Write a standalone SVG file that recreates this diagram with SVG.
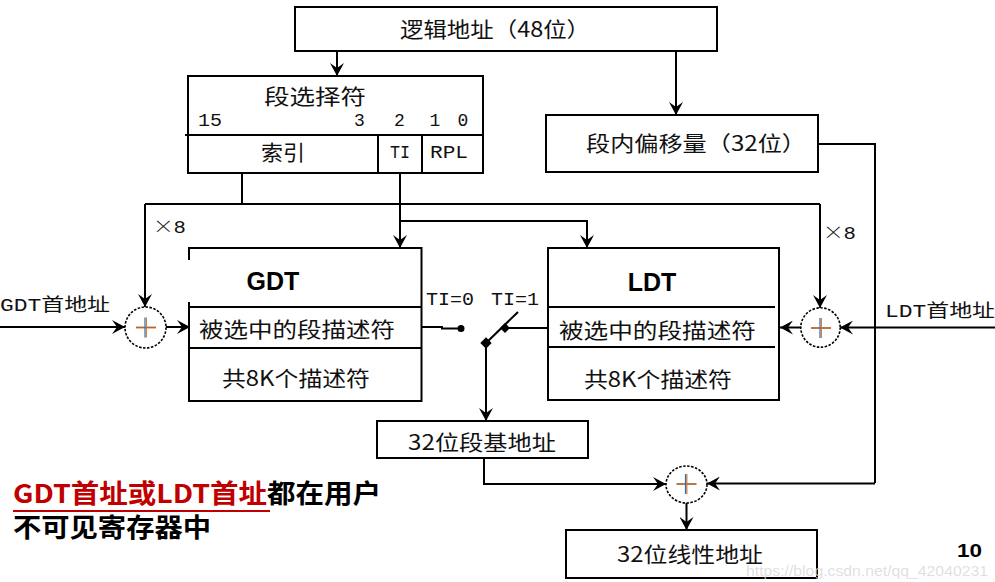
<svg xmlns="http://www.w3.org/2000/svg" width="995" height="582" viewBox="0 0 995 582">
<style>
.bx{fill:#fff;stroke:#000;stroke-width:2}
.ln{fill:none;stroke:#000;stroke-width:2}
.cn{fill:none;stroke:#000;stroke-width:2}
.ar{marker-end:url(#ah)}
.cir{fill:#fff;stroke:#000;stroke-width:1.6;stroke-dasharray:2.5 1.5}
.zh{font-family:"Noto Sans CJK SC","Noto Sans",sans-serif;font-size:21px;fill:#111}
.mo{font-family:"Liberation Mono","Noto Sans CJK SC",monospace;font-size:18px;fill:#111}
.bd{font-family:"Liberation Sans","Noto Sans CJK SC",sans-serif;font-weight:bold;font-size:25px;fill:#000}
.nt{font-family:"Noto Sans CJK SC",sans-serif;font-weight:bold;font-size:26px}
</style>
<defs>
<marker id="ah" markerUnits="userSpaceOnUse" markerWidth="14" markerHeight="14" refX="13" refY="7" orient="auto">
<path d="M0,0 L13,7 L0,14 L5,7 z" fill="#000"/>
</marker>
<g id="plus">
<line x1="-10" y1="0" x2="10" y2="0" stroke="#B8662A" stroke-width="1.8"/>
<line x1="-1" y1="-10" x2="-1" y2="10" stroke="#2F6FC0" stroke-width="1.2"/>
<line x1="0.3" y1="-10" x2="0.3" y2="10" stroke="#C87533" stroke-width="1.2"/>
</g>
</defs>
<rect width="995" height="582" fill="#fff"/>

<g id="connectors">
<line class="cn ar" x1="337" y1="51" x2="337" y2="76"/>
<line class="cn ar" x1="676" y1="51" x2="676" y2="115"/>
<polyline class="cn" points="242,173 242,204"/>
<polyline class="cn" points="145,204 820,204"/>
<polyline class="cn ar" points="145,204 145,307"/>
<polyline class="cn ar" points="820,204 820,308"/>
<polyline class="cn ar" points="400,173 400,248"/>
<polyline class="cn ar" points="400,221 587,221 587,248"/>
<polyline class="cn ar" points="0,327 125,327"/>
<polyline class="cn ar" points="166,327 190,327"/>
<polyline class="cn ar" points="995,327.5 840,327.5"/>
<polyline class="cn ar" points="801,327.5 780,327.5"/>
<polyline class="cn" points="422,327 442,327 442,328.5 461,328.5"/>
<circle cx="461" cy="328.5" r="3.5" fill="#000"/>
<polyline class="cn" points="548,328 505,328"/>
<rect x="501.5" y="324.5" width="7" height="7" transform="rotate(45 505 328)" fill="#000"/>
<line class="cn" x1="486" y1="343" x2="518" y2="312" stroke-width="1.6"/>
<rect x="482" y="339" width="8" height="8" transform="rotate(45 486 343)" fill="#000"/>
<polyline class="cn ar" points="486,343 486,421"/>
<polyline class="cn" points="818,144 875,144 875,483"/>
<polyline class="cn ar" points="875,483.5 707,483.5"/>
<polyline class="cn ar" points="484,458 484,484 666,484"/>
<polyline class="cn ar" points="686.5,503 686.5,530"/>
</g>

<g id="logical-address">
<rect class="bx" x="295" y="7" width="422" height="44"/>
<text class="zh" x="400" y="37" textLength="190" lengthAdjust="spacingAndGlyphs">逻辑地址（48位）</text>
</g>

<g id="selector">
<rect class="bx" x="188" y="76" width="295" height="97"/>
<line class="ln" x1="185" y1="135" x2="483" y2="135"/>
<line class="ln" x1="378" y1="135" x2="378" y2="173"/>
<line class="ln" x1="422" y1="135" x2="422" y2="173"/>
<text class="zh" x="315" y="104" text-anchor="middle" textLength="102" lengthAdjust="spacingAndGlyphs">段选择符</text>
<text class="mo" x="198" y="126" font-size="17" textLength="24" lengthAdjust="spacingAndGlyphs">15</text>
<text class="mo" x="359.5" y="126" font-size="17" text-anchor="middle">3</text>
<text class="mo" x="399.5" y="126" font-size="17" text-anchor="middle">2</text>
<text class="mo" x="435" y="126" font-size="17" text-anchor="middle">1</text>
<text class="mo" x="463" y="126" font-size="17" text-anchor="middle">0</text>
<text class="zh" x="283" y="160" text-anchor="middle" textLength="44" lengthAdjust="spacingAndGlyphs">索引</text>
<text class="mo" x="400" y="158" font-size="17" text-anchor="middle" textLength="20" lengthAdjust="spacingAndGlyphs">TI</text>
<text class="mo" x="449" y="158" font-size="17" text-anchor="middle" textLength="38" lengthAdjust="spacingAndGlyphs">RPL</text>
</g>

<g id="offset">
<rect class="bx" x="546" y="115" width="272" height="57"/>
<text class="zh" x="586" y="151" textLength="220" lengthAdjust="spacingAndGlyphs">段内偏移量（32位）</text>
</g>

<g id="gdt">
<rect x="189" y="248" width="232.5" height="153" fill="#fff"/>
<path class="ln" d="M189,260 L189,248 L421.5,248 L421.5,401 L189,401 L189,302"/>
<line class="ln" x1="189" y1="307" x2="421.5" y2="307"/>
<line class="ln" x1="189" y1="348" x2="421.5" y2="348"/>
<text class="bd" x="273" y="290" text-anchor="middle">GDT</text>
<text class="zh" x="199" y="337" font-size="22" textLength="196" lengthAdjust="spacingAndGlyphs">被选中的段描述符</text>
<text class="zh" x="222" y="386" textLength="148" lengthAdjust="spacingAndGlyphs">共8K个描述符</text>
</g>

<g id="ldt">
<rect class="bx" x="548" y="248" width="231" height="152"/>
<line class="ln" x1="548" y1="307" x2="775" y2="307"/>
<line class="ln" x1="548" y1="347" x2="775" y2="347"/>
<text class="bd" x="652" y="291" text-anchor="middle">LDT</text>
<text class="zh" x="559" y="338" font-size="22" textLength="197" lengthAdjust="spacingAndGlyphs">被选中的段描述符</text>
<text class="zh" x="584" y="387" textLength="148" lengthAdjust="spacingAndGlyphs">共8K个描述符</text>
</g>

<g id="adder-gdt">
<circle class="cir" cx="145.5" cy="327.5" r="20.5"/>
<use href="#plus" x="146" y="327.5"/>
</g>
<g id="adder-ldt">
<circle class="cir" cx="820.5" cy="327.5" r="19.7"/>
<use href="#plus" x="821" y="328"/>
</g>
<g id="adder-linear">
<ellipse class="cir" cx="686.5" cy="484.5" rx="20.5" ry="18.5"/>
<use href="#plus" x="686.5" y="484"/>
</g>

<g id="labels">
<text class="mo" x="153" y="233" font-size="18" textLength="33" lengthAdjust="spacingAndGlyphs"><tspan font-family="Noto Sans CJK SC, sans-serif" font-weight="300">×</tspan>8</text>
<text class="mo" x="823" y="239" font-size="18" textLength="33" lengthAdjust="spacingAndGlyphs"><tspan font-family="Noto Sans CJK SC, sans-serif" font-weight="300">×</tspan>8</text>
<text class="mo" x="0" y="311" font-size="20" textLength="110" lengthAdjust="spacingAndGlyphs">GDT<tspan font-family="Noto Sans CJK SC, sans-serif">首地址</tspan></text>
<text class="mo" x="885" y="317" font-size="20" textLength="110" lengthAdjust="spacingAndGlyphs">LDT<tspan font-family="Noto Sans CJK SC, sans-serif">首地址</tspan></text>
<text class="mo" x="426" y="305" font-size="19" textLength="48" lengthAdjust="spacingAndGlyphs">TI=0</text>
<text class="mo" x="491" y="305" font-size="19" textLength="48" lengthAdjust="spacingAndGlyphs">TI=1</text>
</g>

<g id="segment-base">
<rect class="bx" x="377" y="421" width="211" height="37"/>
<text class="zh" x="408" y="450" textLength="148" lengthAdjust="spacingAndGlyphs">32位段基地址</text>
</g>

<g id="linear-address">
<rect class="bx" x="566" y="530" width="251" height="48"/>
<text class="zh" x="617" y="562" textLength="146" lengthAdjust="spacingAndGlyphs">32位线性地址</text>
</g>

<g id="note">
<text class="nt" x="13" y="503" textLength="368" lengthAdjust="spacingAndGlyphs"><tspan fill="#C00000">GDT首址或LDT首址</tspan><tspan fill="#000">都在用户</tspan></text>
<line x1="13" y1="511" x2="270" y2="511" stroke="#C00000" stroke-width="2"/>
<text class="nt" x="13" y="537" fill="#000" textLength="198" lengthAdjust="spacingAndGlyphs">不可见寄存器中</text>
</g>

<text x="957" y="557" font-family="Liberation Sans, sans-serif" font-weight="bold" font-size="19" textLength="25" lengthAdjust="spacingAndGlyphs">10</text>
<text x="746" y="576" font-family="Liberation Sans, sans-serif" font-size="14" fill="#d8d8d8" fill-opacity="0.8" textLength="242" lengthAdjust="spacingAndGlyphs">https://blog.csdn.net/qq_42040231</text>
</svg>
